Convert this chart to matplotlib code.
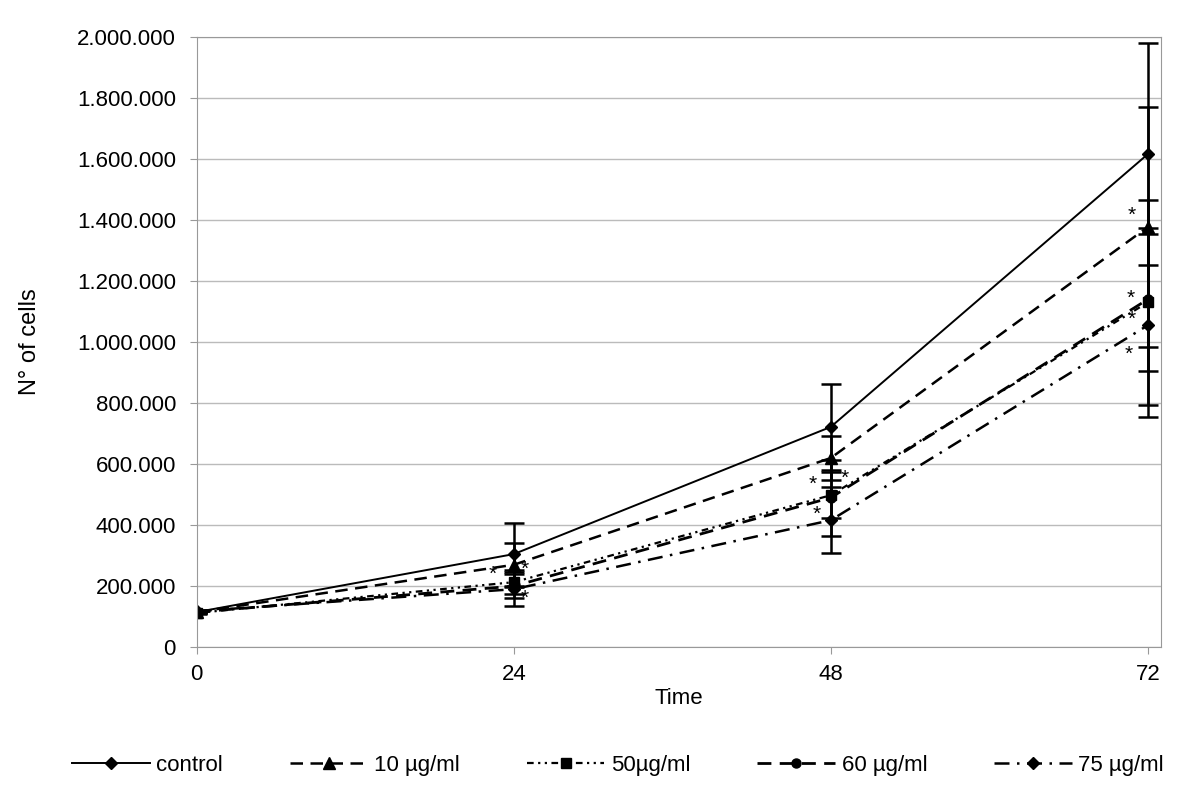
'''
Cell growth over time for different concentrations
'''

import matplotlib
matplotlib.use('Agg')
from matplotlib import pyplot as plt
from matplotlib.ticker import FuncFormatter

plt.rcParams['font.family'] = ['Liberation Sans', 'DejaVu Sans']

# Hours after treatment
hours = [0, 24, 48, 72]

# Mean number of cells for each group
control = [115000, 305000, 722000, 1616000]
ug10 = [115000, 270000, 620000, 1377000]
ug50 = [112000, 213000, 498000, 1130000]
ug60 = [115000, 200000, 490000, 1140000]
ug75 = [118000, 190000, 416000, 1055000]

# Error bars (+/-)
control_err = [4000, 103000, 140000, 363000]
ug10_err = [4000, 72000, 72000, 393000]
ug50_err = [4000, 39000, 75000, 335000]
ug60_err = [4000, 40000, 125000, 235000]
ug75_err = [4000, 56000, 108000, 300000]

labels = ['control', '10 µg/ml', '50µg/ml', '60 µg/ml', '75 µg/ml']

# Significance stars (x in hours, y in cells)
star_x = [22.4, 24.8, 24.8, 46.6, 49.05, 46.9, 70.8, 70.7, 70.8, 70.55]
star_y = [240000, 256000, 161000, 535000, 555000, 437000,
          1417000, 1145000, 1076000, 961000]


def create_line_chart():
    fig = plt.figure(figsize=(12, 7.96), dpi=100)
    ax = fig.add_axes([0.164, 0.187, 0.8035, 0.7665])

    series = [control, ug10, ug50, ug60, ug75]
    errors = [control_err, ug10_err, ug50_err, ug60_err, ug75_err]
    markers = ['D', '^', 's', 'o', 'D']
    msizes = [6, 8, 6.5, 6.5, 6]
    styles = ['-', (0, (5, 3)), (0, (3, 2, 1, 2, 1, 2)), (0, (5, 3)), (0, (6, 3, 1, 3))]
    widths = [1.4, 1.8, 1.6, 2.0, 1.8]

    handles = []
    for data, err, m, ms, ls, lw, lab in zip(series, errors, markers, msizes,
                                             styles, widths, labels):
        c = ax.errorbar(hours, data, yerr=err, color='black', marker=m, markersize=ms,
                        linestyle=ls, linewidth=lw, ecolor='black', elinewidth=1.8,
                        capsize=7, capthick=1.8, label=lab)
        handles.append(c[0])

    for x, y in zip(star_x, star_y):
        ax.text(x, y, '*', fontsize=15, ha='center', va='center')

    ax.set_xlim(0, 73)
    ax.set_ylim(0, 2000000)
    ax.set_xticks(hours)
    ax.set_yticks(range(0, 2000001, 200000))
    ax.yaxis.set_major_formatter(FuncFormatter(lambda v, p: f'{int(v):,}'.replace(',', '.')))
    ax.tick_params(labelsize=16, color='#999999', length=5)
    ax.tick_params(axis='y', pad=10)
    ax.tick_params(axis='x', pad=7)
    ax.grid(axis='y', color='#bbbbbb', linewidth=1)
    for s in ax.spines.values():
        s.set_color('#999999')

    ax.set_xlabel('Time', fontsize=16, labelpad=2)
    ax.set_ylabel('N° of cells', fontsize=17, labelpad=26)

    fig.legend(handles, labels, loc='lower center', bbox_to_anchor=(0.515, 0.0), ncol=5,
               frameon=False, fontsize=16, handlelength=3.5, columnspacing=3.0,
               handletextpad=0.3)

    fig.savefig('out.png', dpi=100)


create_line_chart()
